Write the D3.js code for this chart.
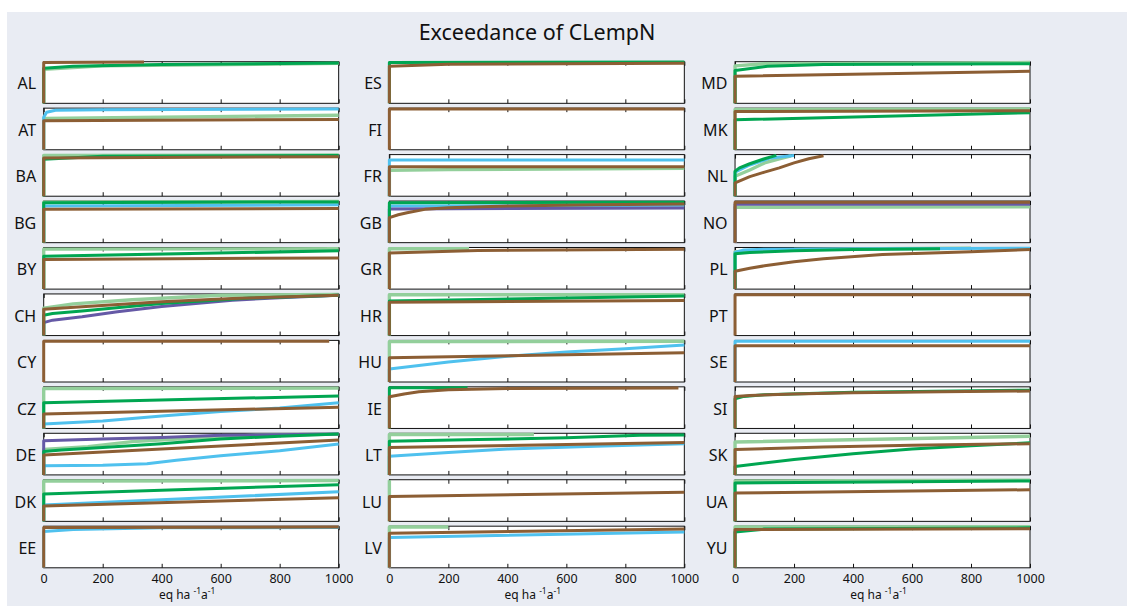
<!DOCTYPE html>
<html>
<head>
<meta charset="utf-8">
<script src="https://cdn.jsdelivr.net/npm/d3@7"></script>
<style>
  html, body { margin: 0; padding: 0; background: #ffffff; }
  svg { display: block; font-family: "Noto Sans", "Open Sans", sans-serif; }
</style>
</head>
<body>
<svg id="chart" width="1134" height="606"></svg>
<script>
// Countries shown in each column of small multiples
const countriesCol1 = ["AL", "AT", "BA", "BG", "BY", "CH", "CY", "CZ", "DE", "DK", "EE"];
const countriesCol2 = ["ES", "FI", "FR", "GB", "GR", "HR", "HU", "IE", "LT", "LU", "LV"];
const countriesCol3 = ["MD", "MK", "NL", "NO", "PL", "PT", "SE", "SI", "SK", "UA", "YU"];

const xTicks = [0, 200, 400, 600, 800, 1000];

// Cumulative exceedance curves: [exceedance (eq/ha/a), % of ecosystem area]
const lightGreen = {
  AL: [[0,0],[0,82],[200,90],[1000,96]],
  AT: [[0,0],[0,75],[1000,83]],
  BA: [[0,0],[0,98],[1000,99]],
  BG: [[0,0],[0,97],[1000,99]],
  BY: [[0,0],[0,96],[1000,97]],
  CH: [[0,0],[0,66],[100,76],[300,86],[600,97],[1000,99]],
  CZ: [[0,0],[0,96],[1000,97]],
  DE: [[0,0],[0,61],[150,68],[300,80],[500,88],[700,95],[1000,98]],
  DK: [[0,0],[0,97],[1000,98]],
  FR: [[0,0],[0,62],[200,64],[1000,67]],
  GR: [[0,0],[0,97],[270,97]],
  HR: [[0,0],[0,98],[1000,98]],
  HU: [[0,0],[0,97],[1000,98]],
  LT: [[0,0],[0,97],[490,97]],
  LU: [[0,0],[0,99]],
  LV: [[0,0],[0,98],[200,98]],
  MD: [[0,0],[0,90],[100,95],[1000,98]],
  MK: [[0,0],[0,97],[1000,98]],
  NL: [[0,0],[0,48],[50,63],[100,80],[150,90],[190,97]],
  NO: [[0,0],[0,85],[1000,86]],
  PL: [[0,0],[0,90],[200,95],[500,97],[800,98]],
  SK: [[0,0],[0,79],[1000,93]],
  UA: [[0,0],[0,97],[1000,99]],
  YU: [[0,0],[0,98],[1000,99]]
};

const lightBlue = {
  AT: [[0,0],[0,78],[10,90],[40,95],[200,96],[1000,98]],
  BG: [[0,0],[0,88],[1000,91]],
  CZ: [[0,0],[0,11],[200,18],[400,30],[600,41],[800,49],[1000,62]],
  DE: [[0,0],[0,22],[200,23],[350,27],[450,35],[600,46],[800,58],[1000,74]],
  DK: [[0,0],[0,39],[1000,71]],
  EE: [[0,0],[0,87],[100,92],[400,96],[1000,97]],
  FR: [[0,0],[0,87],[1000,87]],
  GB: [[0,0],[0,88],[1000,90]],
  HU: [[0,0],[0,31],[200,48],[400,62],[600,72],[800,80],[1000,89]],
  LT: [[0,0],[0,45],[200,54],[400,62],[700,69],[1000,75]],
  LV: [[0,0],[0,73],[1000,86]],
  NL: [[0,0],[0,58],[50,75],[120,92],[200,98]],
  PL: [[0,0],[0,88],[30,94],[100,96],[1000,98]],
  SE: [[0,0],[0,98],[1000,98]]
};

const purple = {
  CH: [[0,0],[0,31],[30,37],[130,45],[250,57],[400,70],[640,85],[800,91],[1000,97]],
  DE: [[0,0],[0,82],[200,86],[400,90],[600,95],[1000,98]],
  GB: [[0,0],[0,81],[1000,83]],
  NO: [[0,0],[0,92],[1000,92]]
};

const darkGreen = {
  AL: [[0,0],[0,84],[100,89],[400,93],[1000,97]],
  BA: [[0,0],[0,89],[200,96],[1000,98]],
  BG: [[0,0],[0,96],[1000,98]],
  BY: [[0,0],[0,79],[1000,92]],
  CH: [[0,0],[0,49],[30,53],[130,59],[400,77],[700,90],[1000,97]],
  CZ: [[0,0],[0,62],[1000,78]],
  DE: [[0,0],[0,56],[60,60],[200,66],[400,75],[600,86],[800,93],[1000,98]],
  DK: [[0,0],[0,66],[1000,88]],
  ES: [[0,0],[0,98],[1000,99]],
  GB: [[0,0],[0,96],[1000,97]],
  HR: [[0,0],[0,83],[1000,95]],
  IE: [[0,0],[0,98],[265,98]],
  LT: [[0,0],[0,81],[300,85],[600,89],[850,95],[1000,96]],
  MD: [[0,0],[0,79],[110,89],[300,93],[1000,95]],
  MK: [[0,0],[0,72],[1000,89]],
  NL: [[0,0],[0,60],[15,68],[50,78],[100,90],[140,98]],
  PL: [[0,0],[0,85],[50,88],[200,92],[400,95],[695,97]],
  SI: [[0,0],[0,71],[30,77],[100,81],[400,87],[1000,92]],
  SK: [[0,0],[0,20],[200,37],[400,51],[600,62],[800,70],[1000,77]],
  UA: [[0,0],[0,92],[1000,97]],
  YU: [[0,0],[0,86],[100,93],[1000,96]]
};

const brown = {
  AL: [[0,0],[0,98],[340,99]],
  AT: [[0,0],[0,70],[1000,73]],
  BA: [[0,0],[0,92],[1000,95]],
  BG: [[0,0],[0,80],[1000,82]],
  BY: [[0,0],[0,71],[1000,75]],
  CH: [[0,0],[0,63],[130,69],[400,81],[640,89],[1000,97]],
  CY: [[0,0],[0,98],[968,98]],
  CZ: [[0,0],[0,35],[1000,51]],
  DE: [[0,0],[0,48],[250,57],[500,66],[750,75],[1000,84]],
  DK: [[0,0],[0,37],[1000,57]],
  EE: [[0,0],[0,97],[1000,98]],
  ES: [[0,0],[0,89],[200,94],[1000,96]],
  FI: [[0,0],[0,98],[1000,98]],
  FR: [[0,0],[0,71],[1000,71]],
  GB: [[0,0],[0,60],[30,67],[60,72],[120,80],[200,84],[400,88],[700,91],[1000,93]],
  GR: [[0,0],[0,87],[300,93],[1000,96]],
  HR: [[0,0],[0,80],[1000,84]],
  HU: [[0,0],[0,58],[1000,70]],
  IE: [[0,0],[0,76],[50,83],[100,88],[200,93],[400,96],[980,97]],
  LT: [[0,0],[0,66],[1000,78]],
  LU: [[0,0],[0,60],[1000,70]],
  LV: [[0,0],[0,83],[1000,93]],
  MD: [[0,0],[0,65],[1000,77]],
  MK: [[0,0],[0,92],[1000,94]],
  NL: [[0,0],[0,32],[20,38],[50,47],[100,58],[150,68],[200,80],[250,90],[300,97]],
  NO: [[0,0],[0,97],[1000,97]],
  PL: [[0,0],[0,43],[50,50],[100,56],[200,66],[300,73],[500,83],[800,90],[1000,95]],
  PT: [[0,0],[0,98],[1000,98]],
  SE: [[0,0],[0,87],[1000,87]],
  SI: [[0,0],[0,77],[50,79],[200,83],[400,86],[700,88],[1000,90]],
  SK: [[0,0],[0,61],[300,67],[600,71],[1000,75]],
  UA: [[0,0],[0,68],[1000,76]],
  YU: [[0,0],[0,92],[1000,94]]
};

// Drawing order: later series sit on top
const seriesList = [
  { data: lightGreen, color: "#93cf9b", width: 3.4 },
  { data: lightBlue,  color: "#4fc1ee", width: 3 },
  { data: purple,     color: "#6559a6", width: 3 },
  { data: darkGreen,  color: "#00a651", width: 3 },
  { data: brown,      color: "#8c5e34", width: 3 }
];

const columns = [countriesCol1, countriesCol2, countriesCol3];

const svg = d3.select("#chart");

// figure background
svg.append("rect")
  .attr("x", 7).attr("y", 12).attr("width", 1120).attr("height", 594)
  .attr("fill", "#e9ecf3");

svg.append("text")
  .attr("x", 537).attr("y", 39.5)
  .attr("text-anchor", "middle")
  .attr("font-size", 21.5)
  .attr("fill", "#111")
  .text("Exceedance of CLempN");

const colScale = d3.scaleBand().domain([0, 1, 2]).range([43.7, 1030]).paddingInner(0.1467).paddingOuter(0);
const rowScale = d3.scaleBand().domain(d3.range(11)).range([61.7, 567.8]).paddingInner(0.104).paddingOuter(0);

const panelW = colScale.bandwidth();
const panelH = rowScale.bandwidth();

const x = d3.scaleLinear().domain([0, 1000]).range([0, panelW]);
const y = d3.scaleLinear().domain([0, 100]).range([panelH, 0]);

const line = d3.line().x(d => x(d[0])).y(d => y(d[1]));

columns.forEach((countries, ci) => {
  countries.forEach((code, ri) => {
    const g = svg.append("g")
      .attr("transform", `translate(${colScale(ci)},${rowScale(ri)})`);

    g.append("rect")
      .attr("width", panelW).attr("height", panelH)
      .attr("fill", "#ffffff")
      .attr("stroke", "#111").attr("stroke-width", 1);

    const isBottom = ri === countries.length - 1;

    // inward ticks on bottom and top edges
    const bottomAxis = d3.axisBottom(x).tickValues(xTicks).tickSize(-4).tickPadding(6.5)
      .tickFormat(isBottom ? d3.format("d") : () => "");
    const gb = g.append("g").attr("transform", `translate(0,${panelH})`).call(bottomAxis);
    gb.select(".domain").remove();
    gb.selectAll(".tick line").attr("stroke", "#111");
    gb.selectAll(".tick text")
      .attr("font-size", 12.5).attr("fill", "#111")
      .attr("font-family", "Noto Sans, sans-serif");

    const topAxis = d3.axisTop(x).tickValues(xTicks).tickSize(-4).tickFormat(() => "");
    const gt = g.append("g").call(topAxis);
    gt.select(".domain").remove();
    gt.selectAll(".tick line").attr("stroke", "#111");

    // country label
    g.append("text")
      .attr("x", -7.5).attr("y", panelH / 2 + 7)
      .attr("text-anchor", "end")
      .attr("font-size", 16)
      .attr("fill", "#111")
      .text(code);

    // curves
    seriesList.forEach(s => {
      const pts = s.data[code];
      if (!pts) return;
      g.append("path")
        .attr("d", line(pts))
        .attr("fill", "none")
        .attr("stroke", s.color)
        .attr("stroke-width", s.width)
        .attr("stroke-linejoin", "round");
    });

    if (isBottom) {
      const lab = g.append("text")
        .attr("x", panelW / 2 - 4).attr("y", panelH + 31.5)
        .attr("text-anchor", "middle")
        .attr("font-size", 12)
        .attr("fill", "#111");
      lab.append("tspan").text("eq ha ");
      lab.append("tspan").attr("dy", -5).attr("font-size", 8.5).text("-1");
      lab.append("tspan").attr("dy", 5).text("a");
      lab.append("tspan").attr("dy", -5).attr("font-size", 8.5).text("-1");
    }
  });
});
</script>
</body>
</html>
